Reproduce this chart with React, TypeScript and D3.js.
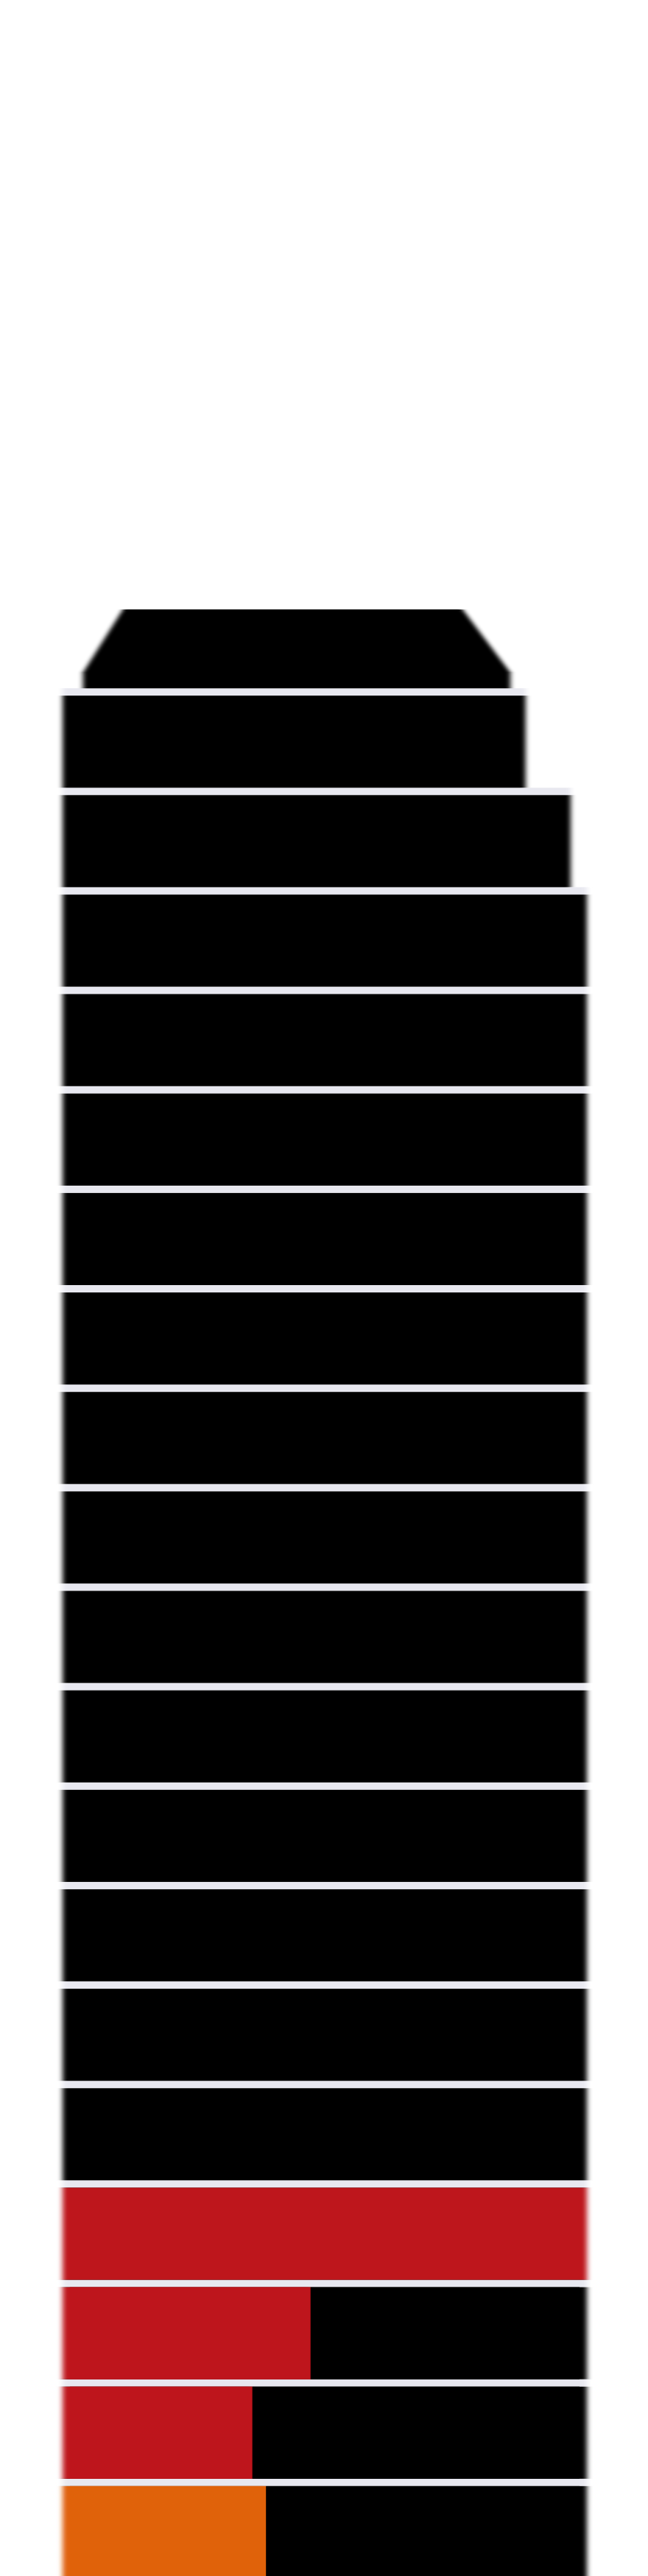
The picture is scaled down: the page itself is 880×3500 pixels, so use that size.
import React from 'react';
import * as d3 from 'd3';

// row 0 is the tapered cap, rows 1..19 are the stacked bars
const rows = d3.range(20);
const totals = [85.4, 88.3, 96.9, 100, 100, 100, 100, 100, 100, 100, 100, 100, 100, 100, 100, 100, 100, 100, 100, 100];
const highlight = [0, 0, 0, 0, 0, 0, 0, 0, 0, 0, 0, 0, 0, 0, 0, 0, 100, 47.3, 36.2, 38.8];
const highlightKind = ['', '', '', '', '', '', '', '', '', '', '', '', '', '', '', '', 'red', 'red', 'red', 'orange'];

// cap outline: x values at the top and at the shoulder, y as share of the row
const capTopX = [11.5, 76.3];
const capBaseX = [3.9, 85.4];
const capTopFrac = 0.144;
const capShoulderFrac = 0.83;

const colors: Record<string, string> = { red: '#be151c', orange: '#e0620a', base: '#000000', gap: '#e8e8f0' };

const W = 880;
const H = 3500;

export default function App() {
  const x = d3.scaleLinear().domain([0, 100]).range([85, 797]);
  const y = d3.scaleBand<number>().domain(rows).range([810, 3503]).paddingInner(0.074).paddingOuter(0);
  const bw = y.bandwidth();
  const gap = y.step() - bw;
  const inset = 10; // keep the blurred outer edge, sharp inner joins

  const capY0 = y(0)!;
  const capPts: [number, number][] = [
    [capBaseX[0], 1],
    [capBaseX[0], capShoulderFrac],
    [capTopX[0], capTopFrac],
    [capTopX[1], capTopFrac],
    [capBaseX[1], capShoulderFrac],
    [capBaseX[1], 1],
  ];
  const capPath = d3
    .line<[number, number]>()
    .x(d => x(d[0]))
    .y(d => capY0 + d[1] * bw)(capPts) + 'Z';

  const hl = rows.filter(i => highlight[i] > 0);

  return (
    <svg width={W} height={H} style={{ position: 'absolute', left: 0, top: 0, display: 'block' }}>
      <defs>
        <filter id="hblur" x="-5%" y="0" width="110%" height="100%">
          <feGaussianBlur stdDeviation="3.5 0" />
        </filter>
      </defs>
      <rect width={W} height={H} fill="#ffffff" />
      <g filter="url(#hblur)">
        {rows.slice(1).map(i => (
          <rect
            key={'g' + i}
            x={x(0)}
            y={y(i)! - gap}
            width={x(Math.max(totals[i], totals[i - 1])) - x(0)}
            height={gap}
            fill={colors.gap}
          />
        ))}
        <path d={capPath} fill={colors.base} />
        {rows.slice(1).map(i => (
          <g key={'r' + i}>
            <rect x={x(0)} y={y(i)} width={x(totals[i]) - x(0)} height={bw} fill={colors.base} />
            {highlight[i] > 0 && (
              <rect
                x={x(0)}
                y={y(i)}
                width={x(highlight[i]) - x(0)}
                height={bw}
                fill={colors[highlightKind[i]]}
              />
            )}
          </g>
        ))}
      </g>
      {hl
        .filter(i => highlight[i] < totals[i])
        .map(i => (
          <rect
            key={'s' + i}
            x={x(0) + inset}
            y={y(i)}
            width={x(highlight[i]) - x(0) - inset}
            height={bw}
            fill={colors[highlightKind[i]]}
          />
        ))}
      {hl
        .filter(i => highlight[i] < totals[i])
        .map(i => (
          <rect
            key={'k' + i}
            x={x(highlight[i])}
            y={y(i)}
            width={x(totals[i]) - x(highlight[i]) - inset}
            height={bw}
            fill={colors.base}
          />
        ))}
    </svg>
  );
}
